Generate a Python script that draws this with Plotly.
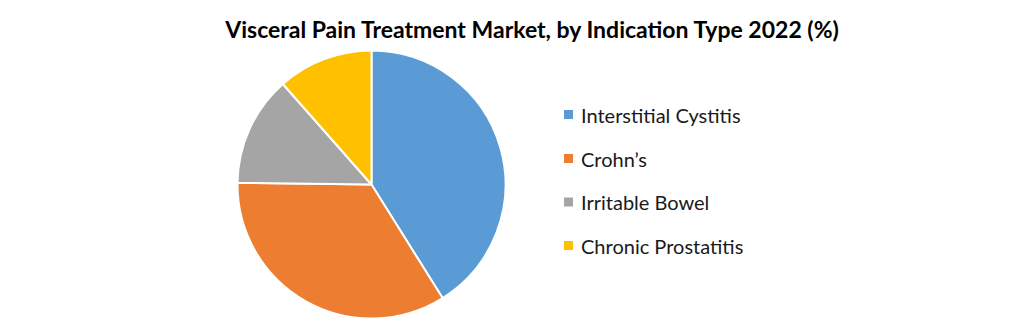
import plotly.graph_objects as go

labels = ["Interstitial Cystitis", "Crohn\u2019s", "Irritable Bowel", "Chronic Prostatitis"]
values = [41.1, 34.1, 13.3, 11.5]
colors = ["#5B9BD5", "#ED7D31", "#A5A5A5", "#FFC000"]
title = "Visceral Pain Treatment Market, by Indication Type 2022 (%)"

W, H = 1021, 321
FONT = "Lato"

fig = go.Figure()
fig.add_trace(go.Pie(
    labels=labels, values=values, sort=False, direction="clockwise", rotation=0,
    marker=dict(colors=colors, line=dict(color="white", width=2)),
    textinfo="none", hoverinfo="label+percent", showlegend=False,
    domain=dict(x=[237.5 / W, 505.5 / W], y=[(H - 318.5) / H, (H - 50.5) / H]),
))

# manual legend
leg_y = [114.5, 158.5, 202, 245.5]
shapes, annos = [], []
for lab, col, yy in zip(labels, colors, leg_y):
    shapes.append(dict(type="rect", xref="paper", yref="paper",
                       x0=564 / W, x1=573 / W, y0=(H - yy - 4.5) / H, y1=(H - yy + 4.5) / H,
                       fillcolor=col, line=dict(width=0)))
    annos.append(dict(text=lab, xref="paper", yref="paper", x=579 / W, y=(H - yy) / H,
                      xanchor="left", yanchor="middle", showarrow=False,
                      font=dict(family=FONT, size=20, color="#1a1a1a")))

fig.update_layout(
    width=W, height=H, margin=dict(l=0, r=0, t=0, b=0),
    paper_bgcolor="white", plot_bgcolor="white",
    title=dict(text="<b>" + title + "</b>", x=532 / W, xanchor="center",
               y=(H - 30) / H, yanchor="middle",
               font=dict(family=FONT, size=23, color="black")),
    shapes=shapes, annotations=annos,
)
fig.write_html("out.html")
